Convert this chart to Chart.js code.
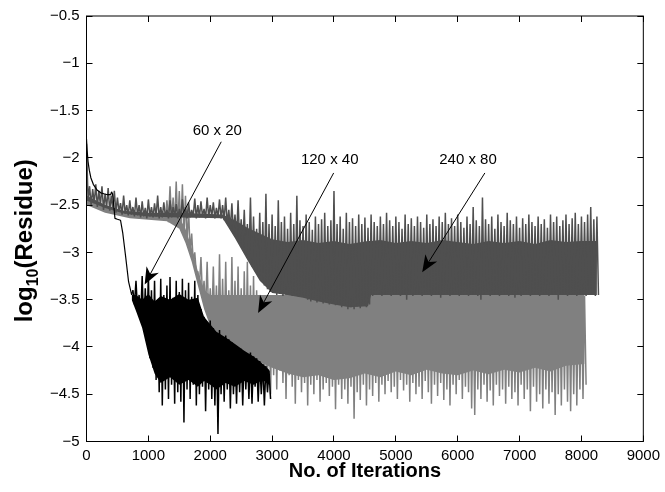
<!DOCTYPE html>
<html>
<head>
<meta charset="utf-8">
<script src="https://cdn.jsdelivr.net/npm/chart.js@4.4.0/dist/chart.umd.min.js"></script>
<style>
html,body{margin:0;padding:0;background:#fff;}
#wrap{width:665px;height:492px;}
</style>
</head>
<body>
<div id="wrap"><canvas id="c" width="665" height="492"></canvas></div>
<script>
// axis ticks
var xTicks = [0,1000,2000,3000,4000,5000,6000,7000,8000,9000];
var yTicks = [-5,-4.5,-4,-3.5,-3,-2.5,-2,-1.5,-1,-0.5];

// 60 x 20 : smooth start of the residue curve
var blackIt  = [0,10,25,45,70,110,170,230,280,340,390,405,420,440,460,500,550,585,630,680,730,750];
var blackVal = [-1.80,-1.92,-2.04,-2.13,-2.21,-2.28,-2.34,-2.37,-2.38,-2.39,-2.39,-2.36,-2.38,-2.50,-2.64,-2.65,-2.66,-2.79,-3.03,-3.31,-3.45,-3.40];
// 60 x 20 : noisy part, high / low every 50 iterations from 750
var blackStart = 750, blackStep = 50;
var blackHi = [-3.40,-3.30,-3.45,-3.25,-3.38,-3.22,-3.40,-3.30,-3.50,-3.28,
  -3.45,-3.35,-3.26,-3.48,-3.30,-3.42,-3.28,-3.40,-3.32,-3.47,
  -3.30,-3.45,-3.60,-3.68,-3.75,-3.72,-3.80,-3.85,-3.82,-3.90,
  -3.88,-3.92,-3.95,-3.98,-4.00,-4.02,-4.05,-4.08,-4.06,-4.10,
  -4.12,-4.15,-4.18,-4.20,-4.25];
var blackLo = [-3.55,-3.62,-3.70,-3.82,-3.95,-4.12,-4.22,-4.35,-4.48,-4.62,
  -4.45,-4.55,-4.40,-4.60,-4.48,-4.58,-4.80,-4.45,-4.55,-4.40,
  -4.62,-4.50,-4.42,-4.68,-4.45,-4.55,-4.62,-4.92,-4.50,-4.58,
  -4.45,-4.65,-4.50,-4.60,-4.48,-4.62,-4.45,-4.55,-4.60,-4.42,
  -4.58,-4.50,-4.62,-4.48,-4.55];
// 60 x 20 : solid core of the band
var blackCoreIt  = [730,800,900,1000,1100,1200,1350,1500,1650,1800,1900,2000,2100,2250,2400,2550,2700,2850,2950];
var blackCoreTop = [-3.45,-3.45,-3.50,-3.44,-3.52,-3.46,-3.50,-3.44,-3.50,-3.48,-3.68,-3.76,-3.84,-3.90,-3.97,-4.04,-4.10,-4.18,-4.24];
var blackCoreBot = [-3.50,-3.62,-3.80,-4.08,-4.28,-4.38,-4.32,-4.40,-4.35,-4.42,-4.36,-4.40,-4.45,-4.38,-4.42,-4.36,-4.40,-4.35,-4.40];

// 120 x 40 : high / low every 50 iterations from 1250
var lightStart = 1250, lightStep = 50;
var lightHi = [-2.58,-2.45,-2.30,-2.42,-2.25,-2.35,-2.28,-2.40,-2.55,-2.80,
  -3.00,-3.20,-3.05,-3.30,-3.10,-3.38,-3.15,-3.35,-3.02,-3.28,
  -3.10,-3.40,-3.05,-3.30,-3.15,-3.38,-3.20,-3.10,-3.35,-3.25,
  -3.40,-3.45,-3.46,-3.45,-3.46,-3.45,-3.46,-3.45,-3.46,-3.45,
  -3.46,-3.45,-3.46,-3.45,-3.46,-3.45,-3.46,-3.45,-3.46,-3.45,
  -3.46,-3.45,-3.46,-3.45,-3.46,-3.45,-3.46,-3.45,-3.46,-3.45,
  -3.46,-3.45,-3.46,-3.45,-3.46,-3.45,-3.46,-3.45,-3.46,-3.45,
  -3.46,-3.45,-3.46,-3.45,-3.46,-3.45,-3.46,-3.45,-3.46,-3.45,
  -3.46,-3.45,-3.46,-3.45,-3.46,-3.45,-3.46,-3.45,-3.46,-3.45,
  -3.46,-3.45,-3.46,-3.45,-3.46,-3.45,-3.46,-3.45,-3.46,-3.45,
  -3.46,-3.45,-3.46,-3.45,-3.46,-3.45,-3.46,-3.45,-3.46,-3.45,
  -3.46,-3.45,-3.46,-3.45,-3.46,-3.45,-3.46,-3.45,-3.46,-3.45,
  -3.46,-3.45,-3.46,-3.45,-3.46,-3.45,-3.46,-3.45,-3.46,-3.45,
  -3.46,-3.45,-3.46,-3.45,-3.46,-3.45,-3.46];
var lightLo = [-2.66,-2.68,-2.67,-2.70,-2.72,-2.76,-2.82,-2.90,-3.00,-3.10,
  -3.22,-3.35,-3.48,-3.60,-3.70,-3.78,-3.85,-3.90,-3.95,-4.00,
  -4.02,-4.05,-4.08,-4.10,-4.12,-4.15,-4.18,-4.20,-4.22,-4.25,
  -4.28,-4.30,-4.32,-4.35,-4.50,-4.30,-4.45,-4.25,-4.38,-4.55,
  -4.30,-4.42,-4.60,-4.35,-4.48,-4.38,-4.62,-4.40,-4.50,-4.35,
  -4.58,-4.45,-4.38,-4.52,-4.42,-4.66,-4.40,-4.55,-4.45,-4.60,
  -4.42,-4.76,-4.48,-4.56,-4.40,-4.62,-4.45,-4.52,-4.38,-4.58,
  -4.40,-4.50,-4.36,-4.48,-4.42,-4.55,-4.35,-4.46,-4.40,-4.58,
  -4.38,-4.50,-4.42,-4.55,-4.36,-4.48,-4.60,-4.40,-4.52,-4.38,
  -4.56,-4.45,-4.62,-4.40,-4.50,-4.35,-4.55,-4.42,-4.48,-4.65,
  -4.72,-4.45,-4.55,-4.40,-4.58,-4.46,-4.62,-4.40,-4.52,-4.45,
  -4.60,-4.42,-4.55,-4.48,-4.62,-4.40,-4.55,-4.45,-4.68,-4.42,
  -4.58,-4.50,-4.65,-4.45,-4.60,-4.48,-4.72,-4.50,-4.62,-4.45,
  -4.58,-4.68,-4.50,-4.62,-4.45,-4.55,-4.40];
var lightCoreIt  = [0,300,700,1300,1500,1600,1700,1800,1900,2000,2300,2600,3000,3250,3500,3750,4000,4250,4500,4750,5000,5250,5500,5750,6000,6250,6500,6750,7000,7250,7500,7750,8050];
var lightCoreTop = [-2.40,-2.50,-2.58,-2.60,-2.63,-2.75,-2.95,-3.20,-3.40,-3.45,-3.45,-3.45,-3.45,-3.45,-3.45,-3.45,-3.45,-3.45,-3.45,-3.45,-3.45,-3.45,-3.45,-3.45,-3.45,-3.45,-3.45,-3.45,-3.45,-3.45,-3.45,-3.45,-3.45];
var lightCoreBot = [-2.50,-2.58,-2.64,-2.67,-2.75,-2.90,-3.10,-3.35,-3.60,-3.78,-4.00,-4.10,-4.22,-4.28,-4.32,-4.30,-4.35,-4.33,-4.28,-4.32,-4.26,-4.30,-4.24,-4.28,-4.30,-4.25,-4.29,-4.24,-4.27,-4.22,-4.26,-4.20,-4.18];

// 240 x 80 : high / low every 50 iterations from 0
var darkStart = 0, darkStep = 50;
var darkHi = [-1.85,-2.30,-2.33,-2.28,-2.35,-2.30,-2.38,-2.32,-2.40,-2.35,
  -2.42,-2.48,-2.40,-2.50,-2.45,-2.52,-2.42,-2.50,-2.46,-2.53,
  -2.44,-2.52,-2.48,-2.40,-2.52,-2.47,-2.55,-2.45,-2.52,-2.49,
  -2.54,-2.44,-2.52,-2.47,-2.55,-2.43,-2.50,-2.46,-2.54,-2.42,
  -2.50,-2.47,-2.53,-2.44,-2.50,-2.42,-2.55,-2.48,-2.60,-2.45,
  -2.65,-2.55,-2.70,-2.42,-2.62,-2.75,-2.58,-2.68,-2.38,-2.70,
  -2.60,-2.72,-2.45,-2.68,-2.62,-2.75,-2.58,-2.70,-2.40,-2.66,
  -2.72,-2.60,-2.68,-2.76,-2.62,-2.70,-2.65,-2.58,-2.72,-2.66,
  -2.35,-2.70,-2.62,-2.75,-2.58,-2.68,-2.64,-2.72,-2.60,-2.70,
  -2.63,-2.74,-2.60,-2.68,-2.72,-2.62,-2.70,-2.58,-2.66,-2.72,
  -2.62,-2.68,-2.75,-2.60,-2.70,-2.64,-2.72,-2.62,-2.68,-2.74,
  -2.60,-2.70,-2.65,-2.72,-2.62,-2.68,-2.58,-2.70,-2.64,-2.72,
  -2.60,-2.68,-2.74,-2.62,-2.70,-2.52,-2.66,-2.72,-2.42,-2.65,
  -2.70,-2.62,-2.75,-2.60,-2.68,-2.72,-2.58,-2.66,-2.70,-2.62,
  -2.74,-2.64,-2.70,-2.60,-2.68,-2.72,-2.62,-2.70,-2.65,-2.74,
  -2.60,-2.68,-2.62,-2.72,-2.66,-2.60,-2.70,-2.64,-2.58,-2.70,
  -2.62,-2.68,-2.60,-2.52,-2.65,-2.62];
var darkLo = [-2.45,-2.50,-2.48,-2.52,-2.50,-2.55,-2.53,-2.56,-2.55,-2.58,
  -2.57,-2.60,-2.59,-2.61,-2.60,-2.62,-2.61,-2.63,-2.62,-2.64,
  -2.62,-2.63,-2.62,-2.64,-2.63,-2.62,-2.64,-2.63,-2.62,-2.64,
  -2.63,-2.62,-2.64,-2.63,-2.62,-2.64,-2.63,-2.62,-2.64,-2.63,
  -2.62,-2.64,-2.63,-2.64,-2.66,-2.70,-2.75,-2.80,-2.85,-2.90,
  -2.95,-3.02,-3.08,-3.15,-3.20,-3.25,-3.30,-3.35,-3.39,-3.42,
  -3.43,-3.45,-3.44,-3.46,-3.45,-3.44,-3.46,-3.45,-3.47,-3.45,
  -3.48,-3.50,-3.52,-3.50,-3.53,-3.51,-3.54,-3.52,-3.55,-3.53,
  -3.56,-3.55,-3.58,-3.56,-3.60,-3.58,-3.60,-3.57,-3.59,-3.56,
  -3.58,-3.55,-3.46,-3.45,-3.44,-3.46,-3.45,-3.44,-3.46,-3.45,
  -3.44,-3.46,-3.45,-3.50,-3.44,-3.46,-3.45,-3.44,-3.46,-3.45,
  -3.44,-3.46,-3.45,-3.44,-3.48,-3.45,-3.44,-3.46,-3.45,-3.44,
  -3.46,-3.45,-3.44,-3.46,-3.45,-3.44,-3.46,-3.50,-3.45,-3.44,
  -3.46,-3.45,-3.44,-3.46,-3.45,-3.44,-3.46,-3.45,-3.48,-3.44,
  -3.46,-3.45,-3.44,-3.46,-3.45,-3.44,-3.46,-3.45,-3.44,-3.46,
  -3.45,-3.44,-3.50,-3.45,-3.44,-3.46,-3.45,-3.44,-3.46,-3.45,
  -3.44,-3.46,-3.45,-3.44,-3.46,-3.45];
var darkCoreIt  = [0,300,600,1000,1500,2200,2400,2600,2800,3000,3250,3500,3750,4000,4250,4550,4600,4750,5000,5250,5500,5750,6000,6250,6500,6750,7000,7250,7500,7750,8000,8250];
var darkCoreTop = [-2.40,-2.50,-2.56,-2.58,-2.58,-2.60,-2.66,-2.74,-2.80,-2.86,-2.89,-2.87,-2.90,-2.88,-2.91,-2.88,-2.88,-2.87,-2.90,-2.88,-2.90,-2.87,-2.89,-2.91,-2.88,-2.90,-2.88,-2.91,-2.87,-2.89,-2.88,-2.88];
var darkCoreBot = [-2.45,-2.53,-2.59,-2.62,-2.63,-2.64,-2.85,-3.08,-3.30,-3.43,-3.45,-3.48,-3.52,-3.55,-3.58,-3.57,-3.45,-3.45,-3.45,-3.45,-3.45,-3.45,-3.45,-3.45,-3.45,-3.45,-3.45,-3.45,-3.45,-3.45,-3.45,-3.45];

// arrow annotations (label position, arrow tail, arrow head) in data units
var noteText = ['60 x 20', '120 x 40', '240 x 80'];
var noteAt   = [[2114,-1.71],[3931,-2.02],[6166,-2.02]];
var noteFrom = [[2178,-1.83],[3995,-2.16],[6439,-2.16]];
var noteTo   = [[940,-3.34],[2773,-3.64],[5426,-3.21]];

var BLACK = '#000000', LIGHT = '#808080', DARK = '#4f4f4f';
var FONT = "'Liberation Sans', Arial, Helvetica, sans-serif";

function zigzag(start, step, hi, lo) {
  var pts = [];
  for (var i = 0; i < hi.length; i++) {
    pts.push({x: start + i * step, y: hi[i]});
    pts.push({x: start + i * step + step / 2, y: lo[i]});
  }
  return pts;
}
function pairs(xs, ys) {
  return xs.map(function(x, i) { return {x: x, y: ys[i]}; });
}
function noisy(pts, color, order, w) {
  return {data: pts, borderColor: color, borderWidth: w, pointRadius: 0, tension: 0,
    borderJoinStyle: 'bevel', fill: false, order: order};
}
function edge(pts, color, order, fill) {
  return {data: pts, borderColor: 'rgba(0,0,0,0)', backgroundColor: color, borderWidth: 1,
    pointRadius: 0, tension: 0, fill: fill, order: order};
}

function minus(v) { return String(v).replace('-', '\u2212'); }

var frame = {
  id: 'frame',
  afterDraw: function(chart) {
    var ctx = chart.ctx, a = chart.chartArea, xs = chart.scales.x, ys = chart.scales.y;
    ctx.save();
    ctx.strokeStyle = '#000';
    ctx.lineWidth = 1;
    ctx.strokeRect(a.left, a.top, a.right - a.left, a.bottom - a.top);
    ctx.beginPath();
    xTicks.forEach(function(t) {
      var p = Math.floor(xs.getPixelForValue(t)) + 0.5;
      ctx.moveTo(p, a.bottom); ctx.lineTo(p, a.bottom - 6);
      ctx.moveTo(p, a.top); ctx.lineTo(p, a.top + 6);
    });
    yTicks.forEach(function(t) {
      var p = Math.floor(ys.getPixelForValue(t)) + 0.5;
      ctx.moveTo(a.left, p); ctx.lineTo(a.left + 6, p);
      ctx.moveTo(a.right, p); ctx.lineTo(a.right - 6, p);
    });
    ctx.stroke();

    // arrows with labels
    ctx.fillStyle = '#000';
    ctx.font = '15px ' + FONT;
    ctx.textAlign = 'center';
    ctx.textBaseline = 'middle';
    for (var i = 0; i < noteText.length; i++) {
      ctx.fillText(noteText[i], xs.getPixelForValue(noteAt[i][0]), ys.getPixelForValue(noteAt[i][1]));
      var x1 = xs.getPixelForValue(noteFrom[i][0]), y1 = ys.getPixelForValue(noteFrom[i][1]);
      var x2 = xs.getPixelForValue(noteTo[i][0]), y2 = ys.getPixelForValue(noteTo[i][1]);
      var ang = Math.atan2(y2 - y1, x2 - x1);
      var L = 17, W = 7, N = 12;
      var bx = x2 - L * Math.cos(ang), by = y2 - L * Math.sin(ang);
      var nx = x2 - N * Math.cos(ang), ny = y2 - N * Math.sin(ang);
      ctx.beginPath();
      ctx.moveTo(x1, y1); ctx.lineTo(nx, ny);
      ctx.stroke();
      ctx.beginPath();
      ctx.moveTo(x2, y2);
      ctx.lineTo(bx + W * Math.sin(ang), by - W * Math.cos(ang));
      ctx.lineTo(nx, ny);
      ctx.lineTo(bx - W * Math.sin(ang), by + W * Math.cos(ang));
      ctx.closePath();
      ctx.fill();
    }

    // axis titles
    ctx.textAlign = 'center';
    ctx.textBaseline = 'middle';
    ctx.font = 'bold 20px ' + FONT;
    ctx.fillText('No. of Iterations', (a.left + a.right) / 2, 471);

    ctx.translate(24, (a.top + a.bottom) / 2 + 12);
    ctx.rotate(-Math.PI / 2);
    ctx.textAlign = 'left';
    ctx.textBaseline = 'alphabetic';
    var big = 'bold 24px ' + FONT, small = 'bold 16px ' + FONT;
    ctx.font = big; var w1 = ctx.measureText('log').width, w3 = ctx.measureText('(Residue)').width;
    ctx.font = small; var w2 = ctx.measureText('10').width;
    var x0 = -(w1 + w2 + w3) / 2;
    ctx.font = big; ctx.fillText('log', x0, 8);
    ctx.font = small; ctx.fillText('10', x0 + w1, 14);
    ctx.font = big; ctx.fillText('(Residue)', x0 + w1 + w2, 8);
    ctx.restore();
  }
};

new Chart(document.getElementById('c').getContext('2d'), {
  type: 'line',
  data: {
    datasets: [
      noisy(pairs(blackIt, blackVal), BLACK, 0, 1.2),
      noisy(zigzag(blackStart, blackStep, blackHi, blackLo), BLACK, 0, 1.5),
      edge(pairs(blackCoreIt, blackCoreTop), BLACK, 1, false),
      edge(pairs(blackCoreIt, blackCoreBot), BLACK, 1, '-1'),
      noisy(zigzag(darkStart, darkStep, darkHi, darkLo), DARK, 2, 1.5),
      edge(pairs(darkCoreIt, darkCoreTop), DARK, 3, false),
      edge(pairs(darkCoreIt, darkCoreBot), DARK, 3, '-1'),
      noisy(zigzag(lightStart, lightStep, lightHi, lightLo), LIGHT, 4, 1.5),
      edge(pairs(lightCoreIt, lightCoreTop), LIGHT, 5, false),
      edge(pairs(lightCoreIt, lightCoreBot), LIGHT, 5, '-1')
    ]
  },
  options: {
    responsive: false,
    animation: false,
    devicePixelRatio: 1,
    layout: {padding: {top: 12.5, right: 18.5, bottom: 0, left: 0}},
    plugins: {legend: {display: false}, tooltip: {enabled: false}},
    scales: {
      x: {
        type: 'linear', min: 0, max: 9000,
        afterBuildTicks: function(s) { s.ticks = xTicks.map(function(v) { return {value: v}; }); },
        afterFit: function(s) { s.height = 50.5; },
        grid: {display: false, drawTicks: false},
        border: {display: false},
        ticks: {color: '#000', padding: 5, maxRotation: 0, font: {family: FONT, size: 15},
          callback: function(v) { return String(v); }}
      },
      y: {
        type: 'linear', min: -5, max: -0.5,
        afterBuildTicks: function(s) { s.ticks = yTicks.map(function(v) { return {value: v}; }); },
        afterFit: function(s) { s.width = 86.5; },
        grid: {display: false, drawTicks: false},
        border: {display: false},
        ticks: {color: '#000', padding: 7, font: {family: FONT, size: 15},
          callback: function(v) { return minus(v); }}
      }
    }
  },
  plugins: [frame]
});
</script>
</body>
</html>
